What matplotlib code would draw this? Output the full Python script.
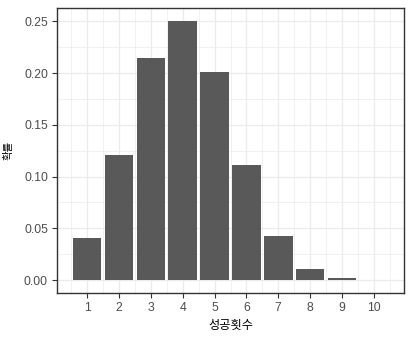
import matplotlib
matplotlib.use("Agg")
import matplotlib.pyplot as plt
import numpy as np

plt.rcParams["font.family"] = ["Liberation Sans", "Noto Sans CJK KR", "DejaVu Sans"]

successes = [1, 2, 3, 4, 5, 6, 7, 8, 9, 10]
probs = [0.0403, 0.1209, 0.2150, 0.2508, 0.2007, 0.1115, 0.0425, 0.0106, 0.0016, 0.0001]

fig = plt.figure(figsize=(4.12, 3.38), dpi=100)
ax = fig.add_axes([57 / 412, 45 / 338, 347 / 412, 285.5 / 338])

ax.bar(successes, probs, width=0.9, color="#595959", zorder=3)

ax.set_xlim(0.055, 10.945)
ax.set_ylim(-0.0125, 0.2634)
ax.set_xticks(successes)
ax.set_xticks(np.arange(0.5, 11, 1.0), minor=True)
ax.set_yticks([0, 0.05, 0.10, 0.15, 0.20, 0.25])
ax.set_yticklabels(["0.00", "0.05", "0.10", "0.15", "0.20", "0.25"])
ax.set_yticks(np.arange(0.025, 0.26, 0.05), minor=True)

ax.grid(which="major", color="#EBEBEB", linewidth=0.9, zorder=0)
ax.grid(which="minor", color="#EBEBEB", linewidth=0.5, zorder=0)
ax.set_axisbelow(True)

ax.tick_params(which="major", length=3.5, width=0.8, color="#333333",
               labelcolor="#4D4D4D", labelsize=8.8, pad=3)
ax.tick_params(which="minor", length=0)
for s in ax.spines.values():
    s.set_color("#333333")
    s.set_linewidth(1.0)

ax.set_xlabel("성공횟수", fontsize=8.8, color="black", labelpad=4)
ax.set_ylabel("확률", fontsize=7.5, color="black")
ax.yaxis.set_label_coords(-(57 - 14) / 347, 0.5)

fig.savefig("out.png", dpi=100)
